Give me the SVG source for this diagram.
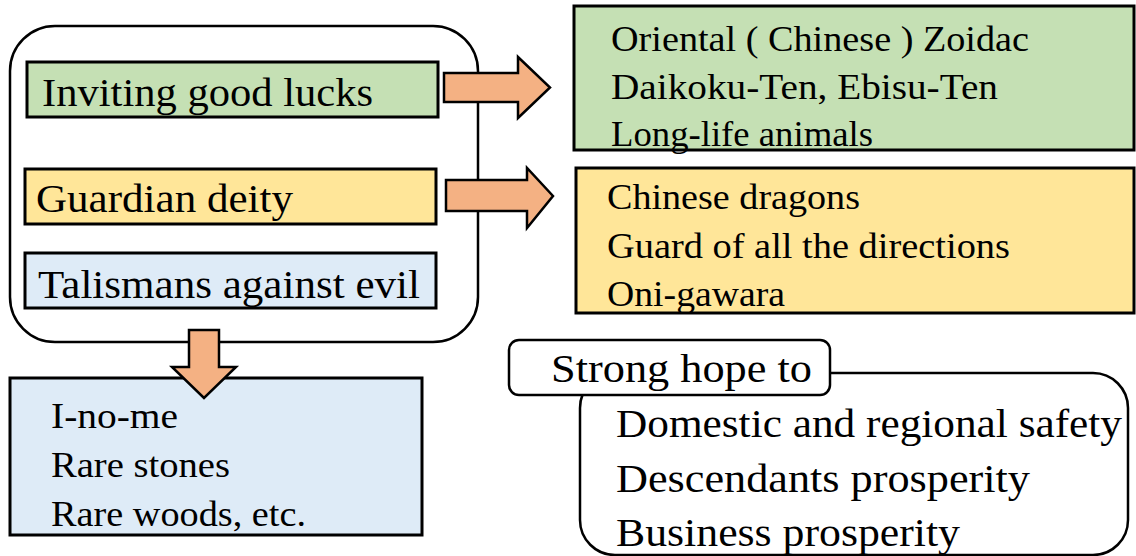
<svg xmlns="http://www.w3.org/2000/svg" width="1136" height="556" viewBox="0 0 1136 556">
<style>
.box{stroke:#000;stroke-width:3;}
.g{fill:#C5E0B4;}
.y{fill:#FFE699;}
.b{fill:#DEEBF7;}
.frame{fill:#fff;stroke:#000;stroke-width:2.5;}
.arr{fill:#F4B183;stroke:#000;stroke-width:2.5;stroke-linejoin:miter;}
.t39{font-size:39px;}
.t36{font-size:36px;}
.t37{font-size:36px;}
.t42{font-size:41px;}
</style>
<rect width="1136" height="556" fill="#fff"/>
<g font-family="Liberation Serif, Times New Roman, serif" fill="#000">
<g id="categories">
<rect class="frame" x="10" y="26" width="468" height="316" rx="45"/>
<g id="n-good-luck"><rect class="box g" x="27" y="62" width="411" height="55"/><text class="t39" x="42" y="106" textLength="331" lengthAdjust="spacingAndGlyphs">Inviting good lucks</text></g>
<g id="n-guardian"><rect class="box y" x="25" y="169" width="411" height="55"/><text class="t39" x="36" y="212" textLength="257" lengthAdjust="spacingAndGlyphs">Guardian deity</text></g>
<g id="n-talismans"><rect class="box b" x="25" y="253" width="411" height="55"/><text class="t39" x="38" y="298" textLength="382" lengthAdjust="spacingAndGlyphs">Talismans against evil</text></g>
</g>
<g id="connectors">
<path class="arr" d="M444,73 H518 V57 L550,87.5 L518,118 V102 H444 Z"/>
<path class="arr" d="M446,180 H527 V168 L553,196 L527,228 V211 H446 Z"/>
</g>
<g id="n-good-luck-items"><rect class="box g" x="574" y="6" width="560" height="144"/>
<text class="t36" x="611" y="51" textLength="418" lengthAdjust="spacingAndGlyphs">Oriental ( Chinese ) Zoidac</text>
<text class="t36" x="611" y="99" textLength="387" lengthAdjust="spacingAndGlyphs">Daikoku-Ten, Ebisu-Ten</text>
<text class="t36" x="611" y="146" textLength="262" lengthAdjust="spacingAndGlyphs">Long-life animals</text></g>
<g id="n-guardian-items"><rect class="box y" x="576" y="168" width="558" height="145"/>
<text class="t36" x="607" y="209" textLength="253" lengthAdjust="spacingAndGlyphs">Chinese dragons</text>
<text class="t36" x="607" y="258" textLength="403" lengthAdjust="spacingAndGlyphs">Guard of all the directions</text>
<text class="t36" x="607" y="306" textLength="178" lengthAdjust="spacingAndGlyphs">Oni-gawara</text></g>
<g id="n-talisman-items"><rect class="box b" x="10" y="378" width="412" height="157"/>
<text class="t37" x="51" y="428" textLength="127" lengthAdjust="spacingAndGlyphs">I-no-me</text>
<text class="t37" x="51" y="477" textLength="179" lengthAdjust="spacingAndGlyphs">Rare stones</text>
<text class="t37" x="51" y="526" textLength="255" lengthAdjust="spacingAndGlyphs">Rare woods, etc.</text></g>
<g id="connector-down">
<path class="arr" d="M189,330 H219 V367 H236 L204,398 L172,367 H189 Z"/>
</g>
<g id="n-hope">
<rect class="frame" x="580" y="373" width="548" height="182" rx="35"/>
<rect class="frame" x="509" y="340" width="321" height="55" rx="10"/>
<text class="t42" x="551" y="382" textLength="261" lengthAdjust="spacingAndGlyphs">Strong hope to</text>
<text class="t42" x="616" y="437" textLength="506" lengthAdjust="spacingAndGlyphs">Domestic and regional safety</text>
<text class="t42" x="616" y="492" textLength="414" lengthAdjust="spacingAndGlyphs">Descendants prosperity</text>
<text class="t42" x="616" y="546" textLength="344" lengthAdjust="spacingAndGlyphs">Business prosperity</text>
</g>
</g>
</svg>
